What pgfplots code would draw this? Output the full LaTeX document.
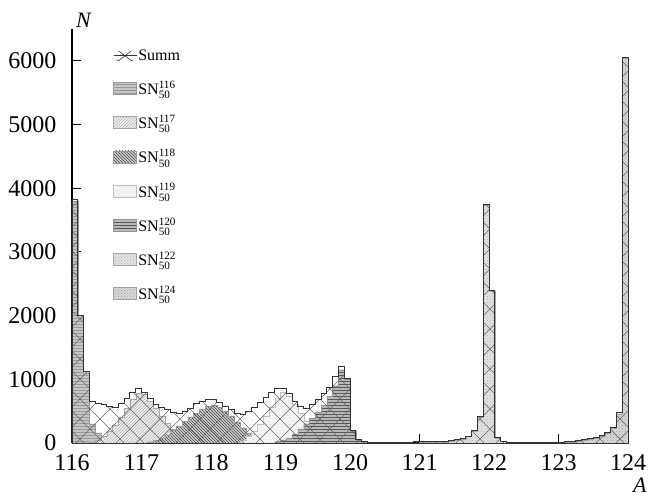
\documentclass[border=0pt]{standalone}
\usepackage{fontspec}
\setmainfont{Liberation Serif}
\usepackage{amsmath}
\usepackage{pgfplots}
\pgfplotsset{compat=1.18}
\usetikzlibrary{patterns}
\pgfdeclarepatternformonly{bigX}{\pgfqpoint{-1pt}{-1pt}}{\pgfqpoint{21pt}{21pt}}{\pgfqpoint{20pt}{20pt}}{%
  \pgfsetlinewidth{0.6pt}%
  \pgfpathmoveto{\pgfqpoint{0pt}{0pt}}\pgfpathlineto{\pgfqpoint{20pt}{20pt}}%
  \pgfpathmoveto{\pgfqpoint{0pt}{20pt}}\pgfpathlineto{\pgfqpoint{20pt}{0pt}}%
  \pgfusepath{stroke}}
\pgfplotsset{
  isoleg/.style={legend image code/.code={\draw[##1] (0pt,-6pt) rectangle (23pt,6pt);}},
  s116/.style={const plot, fill=gray!45, draw=gray!80, line width=0.3pt, postaction={pattern=horizontal lines, pattern color=gray!80}},
  s117/.style={const plot, fill=gray!10, draw=gray!70, line width=0.3pt, postaction={pattern=north east lines, pattern color=gray!60}},
  s118/.style={const plot, fill=gray!35, draw=gray!80, line width=0.3pt, postaction={pattern=north west lines, pattern color=black!75}},
  s119/.style={const plot, fill=gray!8, draw=gray!50, line width=0.3pt, postaction={pattern=dots, pattern color=gray!35}},
  s120/.style={const plot, fill=gray!55, draw=gray!85, line width=0.3pt, postaction={pattern=horizontal lines, pattern color=black!65}},
  s122/.style={const plot, fill=gray!22, draw=gray!70, line width=0.3pt, postaction={pattern=crosshatch dots, pattern color=gray!60}},
  s124/.style={const plot, fill=gray!30, draw=gray!75, line width=0.3pt, postaction={pattern=crosshatch dots, pattern color=gray!80}},
}
\begin{document}
\begin{tikzpicture}
\useasboundingbox (-72pt,-56pt) rectangle (580pt,443pt);
\begin{axis}[
  scale only axis, width=556pt, height=414pt,
  xmin=0, xmax=96, ymin=0, ymax=6500,
  axis x line*=bottom, axis y line*=left,
  axis line style={line width=1.1pt},
  xtick={0,12,24,36,48,60,72,84,96},
  xticklabels={116,117,118,119,120,121,122,123,124},
  ytick={0,1000,2000,3000,4000,5000,6000},
  tick align=inside, major tick length=9pt,
  tick style={line width=1.1pt, black},
  ticklabel style={font=\fontsize{24}{26}\selectfont},
  xticklabel style={yshift=-8pt},
  yticklabel style={xshift=-12pt},
  /pgf/number format/assume math mode=true,
  /pgf/number format/1000 sep={},
  scaled y ticks=false,
  clip=false,
  legend cell align=left,
  legend style={at={(axis description cs:0,1)}, anchor=north west, xshift=41pt, yshift=-19pt,
    draw=none, fill=none, font=\fontsize{16}{18}\selectfont, row sep=16pt, inner sep=0pt,
    nodes={inner sep=1.5pt}},
]
\addlegendimage{legend image code/.code={
  \draw[black!80, line width=0.6pt] (0pt,0pt) -- (23pt,0pt);
  \draw[black!80, line width=0.6pt] (3pt,-4pt) -- (5pt,-5pt) -- (18pt,5pt);
  \draw[black!80, line width=0.6pt] (5pt,5pt) -- (18pt,-5pt) -- (20pt,-4pt);}}
\addlegendentry{Summ}
\addlegendimage{isoleg, s116}\addlegendentry{SN$^{\text{116}}_{\text{50}}$}
\addlegendimage{isoleg, s117}\addlegendentry{SN$^{\text{117}}_{\text{50}}$}
\addlegendimage{isoleg, s118}\addlegendentry{SN$^{\text{118}}_{\text{50}}$}
\addlegendimage{isoleg, s119}\addlegendentry{SN$^{\text{119}}_{\text{50}}$}
\addlegendimage{isoleg, s120}\addlegendentry{SN$^{\text{120}}_{\text{50}}$}
\addlegendimage{isoleg, s122}\addlegendentry{SN$^{\text{122}}_{\text{50}}$}
\addlegendimage{isoleg, s124}\addlegendentry{SN$^{\text{124}}_{\text{50}}$}

% Sn116
\addplot[s116, forget plot] table {
0 3800
1 2000
2 1100
3 300
4 160
5 80
6 40
7 20
8 0
} \closedcycle;
% Sn117
\addplot[s117, forget plot] table {
3 20
4 50
5 100
6 180
7 280
8 400
9 550
10 690
11 780
12 760
13 660
14 540
15 420
16 310
17 220
18 140
19 80
20 40
21 20
22 0
} \closedcycle;
% Sn118
\addplot[s118, forget plot] table {
13 20
14 40
15 80
16 130
17 200
18 270
19 340
20 410
21 470
22 530
23 580
24 590
25 560
26 500
27 420
28 330
29 240
30 160
31 100
32 50
33 20
34 0
} \closedcycle;
% Sn119
\addplot[s119, forget plot] table {
29 50
30 100
31 180
32 290
33 420
34 560
35 700
36 800
37 740
38 610
39 470
40 340
41 220
42 130
43 70
44 30
45 0
} \closedcycle;
% Sn120
\addplot[s120, forget plot] table {
35 20
36 40
37 80
38 140
39 220
40 300
41 390
42 490
43 600
44 730
45 900
46 1150
47 1000
48 180
49 50
50 20
51 0
} \closedcycle;
% Sn122
\addplot[s122, forget plot] table {
60 10
61 15
62 10
63 15
64 20
65 30
66 40
67 60
68 100
69 190
70 400
71 3730
72 2380
73 70
74 25
75 10
76 0
} \closedcycle;
% Sn124
\addplot[s124, forget plot] table {
82 5
83 8
84 10
85 15
86 20
87 30
88 45
89 60
90 80
91 110
92 160
93 240
94 460
95 6040
96 0
} \closedcycle;
% Summ
\addplot[const plot, draw=black!80, line width=0.9pt, pattern=bigX, pattern color=black!60, forget plot] table {
0 3830
1 2000
2 1130
3 650
4 620
5 600
6 580
7 560
8 620
9 700
10 800
11 850
12 790
13 700
14 610
15 560
16 520
17 480
18 470
19 490
20 550
21 620
22 660
23 690
24 680
25 640
26 580
27 520
28 470
29 450
30 500
31 560
32 640
33 720
34 790
35 860
36 850
37 780
38 650
39 580
40 540
41 600
42 680
43 780
44 880
45 1050
46 1200
47 1020
48 200
49 60
50 25
51 12
52 8
53 5
54 5
55 8
56 10
57 12
58 15
59 20
60 25
61 30
62 20
63 25
64 30
65 40
66 50
67 70
68 110
69 200
70 420
71 3750
72 2400
73 80
74 30
75 15
76 8
77 5
78 5
79 5
80 5
81 8
82 10
83 12
84 15
85 18
86 25
87 35
88 50
89 70
90 90
91 120
92 170
93 250
94 480
95 6060
96 0
} \closedcycle;
\node[anchor=base west, font=\fontsize{22}{24}\selectfont\itshape, inner sep=0pt] at (rel axis cs:0,1) [xshift=4pt, yshift=2pt] {N};
\node[anchor=base west, font=\fontsize{22}{24}\selectfont\itshape, inner sep=0pt] at (rel axis cs:1,0) [xshift=5pt, yshift=-49pt] {A};
\end{axis}
\end{tikzpicture}
\end{document}
